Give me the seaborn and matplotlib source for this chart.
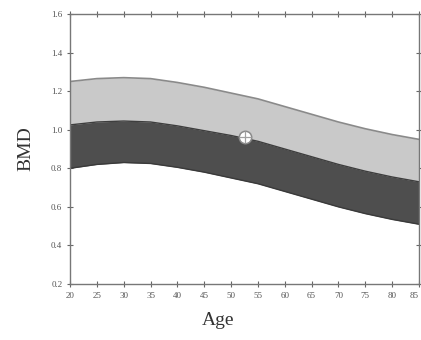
import matplotlib
matplotlib.use("Agg")
import matplotlib.pyplot as plt
import pandas as pd
import seaborn as sns

# reference bands
ages = [20, 25, 30, 35, 40, 45, 50, 55, 60, 65, 70, 75, 80, 85]
upper = [1.25, 1.265, 1.27, 1.265, 1.245, 1.22, 1.19, 1.16, 1.12, 1.08, 1.04, 1.005, 0.975, 0.95]
middle = [1.025, 1.04, 1.045, 1.04, 1.02, 0.995, 0.97, 0.94, 0.90, 0.86, 0.82, 0.785, 0.755, 0.73]
lower = [0.80, 0.82, 0.83, 0.825, 0.805, 0.78, 0.75, 0.72, 0.68, 0.64, 0.60, 0.565, 0.535, 0.51]

# patient point
pt_age = [52.5]
pt_bmd = [0.964]

xticks = [20, 25, 30, 35, 40, 45, 50, 55, 60, 65, 70, 75, 80, 85]
yticks = [0.2, 0.4, 0.6, 0.8, 1.0, 1.2, 1.4, 1.6]

df = pd.DataFrame({"age": ages, "upper": upper, "middle": middle, "lower": lower})

sns.set_style("ticks")
plt.rcParams["font.family"] = ["Liberation Serif", "DejaVu Serif"]

fig = plt.figure(figsize=(4.21, 3.4), dpi=100)
ax = fig.add_axes([70 / 421, 1 - 284 / 340, 349 / 421, 270 / 340])

ax.fill_between(df["age"], df["middle"], df["upper"], color="#c9c9c9", lw=0)
ax.fill_between(df["age"], df["lower"], df["middle"], color="#4e4e4e", lw=0)
sns.lineplot(data=df, x="age", y="upper", color="#8a8a8a", lw=1.2, ax=ax)
sns.lineplot(data=df, x="age", y="middle", color="#3e3e3e", lw=1.0, ax=ax)
sns.lineplot(data=df, x="age", y="lower", color="#3a3a3a", lw=1.0, ax=ax)

sns.scatterplot(x=pt_age, y=pt_bmd, s=80, color="white", edgecolor="#8a8a8a",
                linewidth=1.1, ax=ax, zorder=5)
sns.scatterplot(x=pt_age, y=pt_bmd, s=80, marker="+", color="#a0a0a0",
                linewidth=0.9, ax=ax, zorder=6)

ax.set_xlim(20, 85)
ax.set_ylim(0.2, 1.6)
ax.set_xticks(xticks)
ax.set_yticks(yticks)
ax.set_xticklabels([str(v) for v in xticks])
ax.set_yticklabels(["%.1f" % v for v in yticks])
ax.tick_params(direction="inout", length=5, width=0.8, color="#666666",
               labelsize=6.5, labelcolor="#555555", top=True, right=True, pad=3)
# last label sits at the figure edge; keep it inside
ax.get_xticklabels()[-1].set_horizontalalignment("right")
for s in ax.spines.values():
    s.set_color("#777777")
    s.set_linewidth(1.0)

ax.set_xlabel("Age", fontsize=14, color="#333333")
ax.set_ylabel("BMD", fontsize=14, color="#333333", labelpad=12)
ax.xaxis.set_label_coords(0.425, -0.105)

fig.savefig("out.png", dpi=100)
